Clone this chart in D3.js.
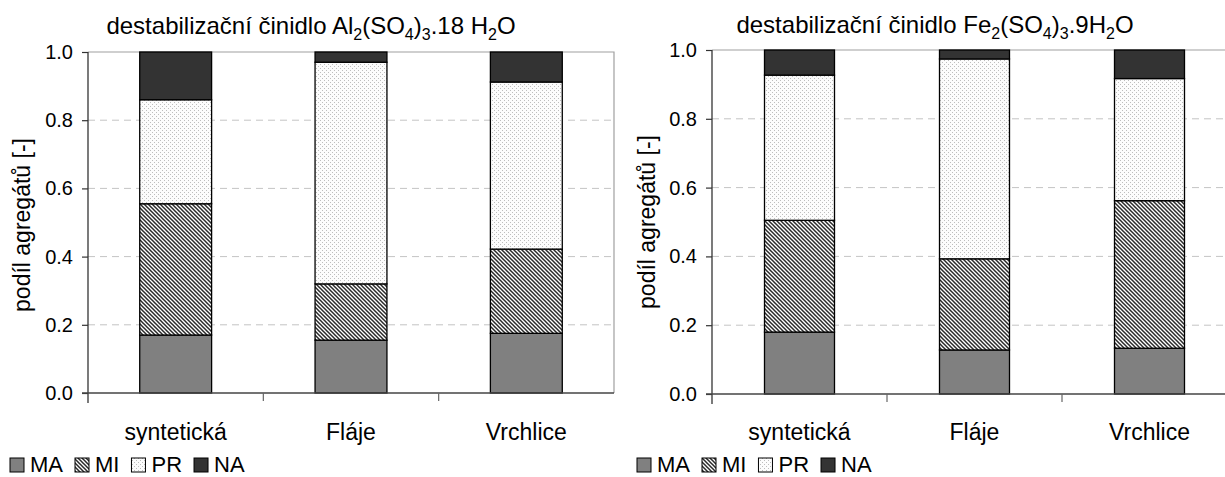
<!DOCTYPE html>
<html>
<head>
<meta charset="utf-8">
<script src="https://cdn.jsdelivr.net/npm/d3@7/dist/d3.min.js"></script>
<style>
  html, body { margin: 0; padding: 0; background: #fff; }
  svg { display: block; font-family: "Liberation Sans", Arial, sans-serif; }
</style>
</head>
<body>
<svg id="chart" width="1225" height="477"></svg>
<script>
// ---- data ----
const categories = ["syntetická", "Fláje", "Vrchlice"];
const seriesNames = ["MA", "MI", "PR", "NA"];
const yTicks = [0, 0.2, 0.4, 0.6, 0.8, 1.0];

// Al2(SO4)3.18 H2O
const alMA = [0.170, 0.155, 0.175];
const alMI = [0.385, 0.165, 0.247];
const alPR = [0.305, 0.650, 0.490];
const alNA = [0.140, 0.030, 0.088];

// Fe2(SO4)3.9H2O
const feMA = [0.180, 0.128, 0.133];
const feMI = [0.325, 0.265, 0.429];
const fePR = [0.422, 0.581, 0.355];
const feNA = [0.073, 0.026, 0.083];

const yTitle = "podíl agregátů [-]";
const titleAl = [["destabilizační činidlo Al", false], ["2", true], ["(SO", false], ["4", true], [")", false], ["3", true], [".18 H", false], ["2", true], ["O", false]];
const titleFe = [["destabilizační činidlo Fe", false], ["2", true], ["(SO", false], ["4", true], [")", false], ["3", true], [".9H", false], ["2", true], ["O", false]];

// ---- drawing ----
const svg = d3.select("#chart");
const defs = svg.append("defs");

// hatch pattern (MI)
const hatch = defs.append("pattern").attr("id", "hatchMI")
  .attr("patternUnits", "userSpaceOnUse").attr("width", 4).attr("height", 4);
hatch.append("rect").attr("width", 4).attr("height", 4).attr("fill", "#fff");
hatch.append("path").attr("d", "M-1,-1 L5,5 M-1,3 L1,5 M3,-1 L5,1")
  .attr("stroke", "#2a2a2a").attr("stroke-width", 1.5);

// dotted pattern (PR)
const dots = defs.append("pattern").attr("id", "dotsPR")
  .attr("patternUnits", "userSpaceOnUse").attr("width", 4).attr("height", 4);
dots.append("rect").attr("width", 4).attr("height", 4).attr("fill", "#fcfcfc");
dots.append("rect").attr("x", 0).attr("y", 0).attr("width", 1).attr("height", 1).attr("fill", "#bdbdbd");
dots.append("rect").attr("x", 2).attr("y", 2).attr("width", 1).attr("height", 1).attr("fill", "#bdbdbd");

const fills = { MA: "#808080", MI: "url(#hatchMI)", PR: "url(#dotsPR)", NA: "#333333" };

function drawChart(cfg) {
  const rows = categories.map((c, i) => ({
    cat: c, MA: cfg.ma[i], MI: cfg.mi[i], PR: cfg.pr[i], NA: cfg.na[i]
  }));
  const stacked = d3.stack().keys(seriesNames)(rows);

  const x = d3.scaleBand().domain(categories).range([cfg.x0, cfg.x1])
    .paddingInner(cfg.pad).paddingOuter(cfg.pad / 2);
  const y = d3.scaleLinear().domain([0, 1]).range([cfg.yB, cfg.yT]);

  const g = svg.append("g");

  // plot border (top + right), gray
  g.append("path")
    .attr("d", `M${cfg.x0},${y(1)} L${cfg.x1},${y(1)} L${cfg.x1},${y(0)}`)
    .attr("fill", "none").attr("stroke", "#a0a0a0").attr("stroke-width", 1.2);

  // dashed grid
  g.selectAll("line.grid").data(yTicks.filter(t => t > 0 && t < 1)).join("line")
    .attr("class", "grid")
    .attr("x1", cfg.x0).attr("x2", cfg.x1)
    .attr("y1", d => y(d)).attr("y2", d => y(d))
    .attr("stroke", "#c4c4c4").attr("stroke-width", 1).attr("stroke-dasharray", "7,5");

  // bars
  stacked.forEach(layer => {
    g.selectAll(null).data(layer).join("rect")
      .attr("x", d => x(d.data.cat))
      .attr("width", x.bandwidth())
      .attr("y", d => y(d[1]))
      .attr("height", d => y(d[0]) - y(d[1]))
      .attr("fill", fills[layer.key])
      .attr("stroke", "#000").attr("stroke-width", 1.3);
  });

  // y axis
  const yAxis = d3.axisLeft(y).tickValues(yTicks).tickFormat(d3.format(".1f"))
    .tickSize(6).tickPadding(9);
  const ya = g.append("g").attr("transform", `translate(${cfg.x0},0)`).call(yAxis);
  ya.select(".domain").remove();
  ya.selectAll(".tick line").attr("stroke", "#333").attr("stroke-width", 1.2);
  ya.selectAll(".tick text").attr("font-size", 20).attr("fill", "#000")
    .attr("font-family", "'Liberation Sans', Arial, sans-serif");
  g.append("line").attr("x1", cfg.x0).attr("x2", cfg.x0)
    .attr("y1", y(1)).attr("y2", y(0) + 10)
    .attr("stroke", "#333").attr("stroke-width", 1.3);

  // x axis line + boundary ticks
  g.append("line").attr("x1", cfg.x0 - 6).attr("x2", cfg.x1)
    .attr("y1", y(0)).attr("y2", y(0))
    .attr("stroke", "#444").attr("stroke-width", 1.5);
  const bounds = categories.slice(1).map(c => x(c) - x.step() * x.paddingInner() / 2);
  g.selectAll(null).data(bounds).join("line")
    .attr("x1", d => d).attr("x2", d => d)
    .attr("y1", y(0)).attr("y2", y(0) + 8)
    .attr("stroke", "#666").attr("stroke-width", 1.2);

  // category labels
  g.selectAll(null).data(categories).join("text")
    .attr("x", d => x(d) + x.bandwidth() / 2)
    .attr("y", cfg.catY)
    .attr("text-anchor", "middle").attr("font-size", 23).attr("fill", "#000")
    .text(d => d);

  // y title
  g.append("text")
    .attr("transform", `translate(${cfg.ytX},${cfg.ytY}) rotate(-90)`)
    .attr("text-anchor", "middle").attr("font-size", 23).attr("fill", "#000")
    .text(yTitle);

  // title with subscripts
  const t = g.append("text").attr("x", cfg.titleX).attr("y", cfg.titleY)
    .attr("text-anchor", "middle").attr("font-size", 24).attr("fill", "#000");
  let prevSub = false;
  cfg.title.forEach(([s, sub]) => {
    const ts = t.append("tspan").text(s);
    if (sub) { ts.attr("font-size", 16).attr("dy", prevSub ? 0 : 6); }
    else if (prevSub) { ts.attr("dy", -6); }
    prevSub = sub;
  });

  // legend
  let lx = cfg.legX;
  const ly = cfg.legY;
  seriesNames.forEach(k => {
    g.append("rect").attr("x", lx).attr("y", ly - 14).attr("width", 14).attr("height", 14)
      .attr("fill", fills[k]).attr("stroke", "#000").attr("stroke-width", 1);
    const tx = g.append("text").attr("x", lx + 20).attr("y", ly)
      .attr("font-size", 22).attr("fill", "#000").text(k);
    lx = lx + 20 + tx.node().getComputedTextLength() + 12;
  });
}

drawChart({
  x0: 88, x1: 614, yT: 52, yB: 393, pad: 0.59,
  ma: alMA, mi: alMI, pr: alPR, na: alNA,
  catY: 440, ytX: 30, ytY: 225,
  title: titleAl, titleX: 311, titleY: 34,
  legX: 10, legY: 472
});

drawChart({
  x0: 712, x1: 1237, yT: 50, yB: 394, pad: 0.6,
  ma: feMA, mi: feMI, pr: fePR, na: feNA,
  catY: 440, ytX: 655, ytY: 222,
  title: titleFe, titleX: 935, titleY: 33,
  legX: 637, legY: 472
});
</script>
</body>
</html>
